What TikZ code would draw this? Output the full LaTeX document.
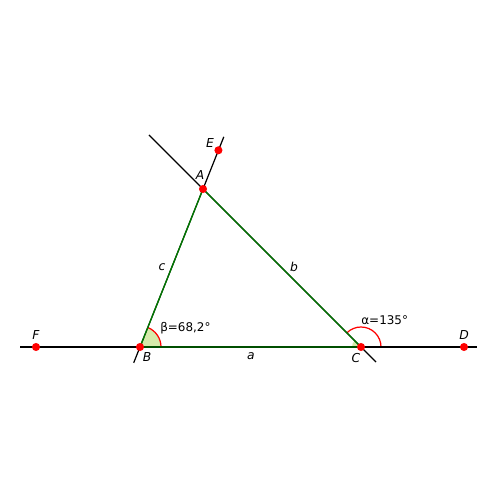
\documentclass[tikz,border=0pt]{standalone}
\usepackage{fontspec}
\setmainfont{DejaVu Sans}
\usetikzlibrary{calc}
\definecolor{ggbgreen}{RGB}{0,122,0}
\definecolor{ggbfill}{RGB}{213,235,170}

\begin{document}
\begin{tikzpicture}[font=\fontsize{6.8}{8}\selectfont,
    pt/.style={circle,fill=red,inner sep=0pt,minimum size=4.6pt},
    side/.style={ggbgreen,line width=0.75pt},
    ext/.style={black,line width=0.7pt},
    lbl/.style={font=\fontsize{7}{8}\selectfont\itshape}]
  \useasboundingbox (0,0) rectangle (10,10);
  % vertices and extra points
  \coordinate (B) at (2.8,3.06);
  \coordinate (C) at (7.22,3.06);
  \coordinate (A) at (4.06,6.22);
  \coordinate (E) at ($(B)!1.245!(A)$);
  \coordinate (F) at (0.72,3.06);
  \coordinate (D) at (9.28,3.06);
  \coordinate (L) at (0.4,3.06);
  \coordinate (R) at (9.54,3.06);
  % angle marks
  \fill[ggbfill] (B) -- ++(0:0.42) arc (0:68.2:0.42) -- cycle;
  \draw[red,line width=0.7pt] ($(B)+(0:0.42)$) arc (0:68.2:0.42);
  \fill[ggbfill] (C) -- ++(180:0.18) arc (180:135:0.18) -- cycle;
  \draw[red,line width=0.7pt] ($(C)+(0:0.4)$) arc (0:135:0.4);
  % lines
  \draw[ext] (L) -- (R);
  \draw[ext] ($(B)!-0.1!(A)$) -- ($(B)!1.33!(A)$);
  \draw[ext] ($(C)!-0.095!(A)$) -- ($(C)!1.342!(A)$);
  \draw[side] (B) -- (C) -- (A) -- cycle;
  % points
  \foreach \p in {A,B,C,D,E,F}
    \node[pt] (n\p) at (\p) {};
  % labels
  \node[lbl] (lA) at (4.0,6.5) {A};
  \node[lbl] (lE) at (4.2,7.14) {E};
  \node[lbl] (lB) at (2.94,2.86) {B};
  \node[lbl] (lC) at (7.12,2.84) {C};
  \node[lbl] (lD) at (9.28,3.3) {D};
  \node[lbl] (lF) at (0.72,3.3) {F};
  \node[lbl] (la) at (5.02,2.88) {a};
  \node[lbl] (lb) at (5.88,4.66) {b};
  \node[lbl] (lc) at (3.24,4.66) {c};
  \node[anchor=west,inner sep=0pt] (beta) at (3.2,3.43) {β=68,2°};
  \node[anchor=west,inner sep=0pt] (alpha) at (7.22,3.59) {α=135°};
\end{tikzpicture}
\end{document}
